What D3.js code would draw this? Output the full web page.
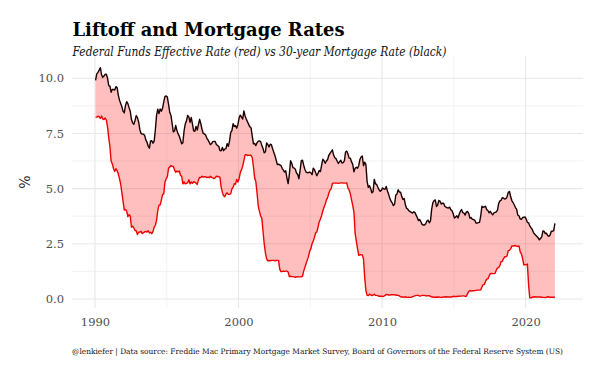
<!DOCTYPE html>
<html>
<head>
<meta charset="utf-8">
<script src="https://cdn.jsdelivr.net/npm/d3@7"></script>
<style>
  html, body { margin: 0; padding: 0; background: #fff; }
  svg { display: block; }
</style>
</head>
<body>
<svg id="chart" width="600" height="375"></svg>
<script>
// ---- DATA (monthly, starting Jan 1990) ----
const startYear = 1990;
const mortgageRate = [
  9.90,10.20,10.27,10.37,10.48,10.16,10.04,10.10,10.18,10.18,10.01,9.67,
  9.64,9.37,9.50,9.49,9.47,9.62,9.58,9.24,9.01,8.86,8.71,8.50,
  8.43,8.76,8.94,8.85,8.67,8.51,8.13,7.98,7.92,8.09,8.31,8.22,
  8.02,7.68,7.50,7.47,7.47,7.42,7.21,7.11,6.92,6.83,7.16,7.17,
  7.06,7.15,7.68,8.32,8.60,8.40,8.61,8.51,8.64,8.93,9.17,9.20,
  9.15,8.83,8.46,8.32,7.96,7.57,7.61,7.86,7.64,7.48,7.38,7.20,
  7.03,7.08,7.62,7.93,8.07,8.32,8.25,8.00,8.23,7.92,7.62,7.60,
  7.82,7.65,7.90,8.14,7.94,7.69,7.50,7.48,7.43,7.29,7.21,7.10,
  6.99,7.04,7.13,7.14,7.14,7.00,6.95,6.92,6.72,6.71,6.87,6.72,
  6.79,6.81,7.04,6.92,7.15,7.55,7.63,7.94,7.82,7.85,7.74,7.91,
  8.21,8.33,8.24,8.15,8.52,8.29,8.15,8.03,7.91,7.80,7.75,7.38,
  7.03,7.05,6.95,7.08,7.15,7.16,7.13,6.95,6.82,6.62,6.66,7.07,
  7.00,6.89,7.01,6.99,6.81,6.65,6.49,6.29,6.09,6.11,6.07,6.05,
  5.92,5.84,5.75,5.81,5.48,5.23,5.63,6.26,6.15,5.95,5.93,5.88,
  5.71,5.64,5.45,5.83,6.27,6.29,6.06,5.87,5.75,5.72,5.73,5.75,
  5.71,5.63,5.93,5.86,5.72,5.58,5.70,5.82,5.77,6.07,6.33,6.27,
  6.15,6.25,6.32,6.51,6.60,6.68,6.76,6.52,6.40,6.36,6.24,6.14,
  6.22,6.29,6.16,6.18,6.26,6.66,6.70,6.57,6.38,6.38,6.21,6.10,
  5.76,5.92,5.97,5.92,6.04,6.32,6.43,6.48,6.04,6.20,6.09,5.33,
  5.06,5.13,5.00,4.81,4.86,5.42,5.22,5.19,5.06,4.95,4.88,4.93,
  5.03,4.99,4.97,5.10,4.89,4.74,4.56,4.43,4.35,4.23,4.30,4.71,
  4.76,4.95,4.84,4.84,4.64,4.51,4.55,4.27,4.11,4.07,3.99,3.96,
  3.92,3.89,3.95,3.91,3.80,3.68,3.55,3.60,3.50,3.38,3.35,3.35,
  3.41,3.53,3.57,3.45,3.54,4.07,4.37,4.46,4.49,4.19,4.26,4.46,
  4.43,4.30,4.34,4.34,4.19,4.16,4.13,4.12,4.16,4.04,4.00,3.86,
  3.67,3.71,3.77,3.67,3.84,3.98,4.05,3.91,3.89,3.80,3.94,3.96,
  3.87,3.66,3.69,3.61,3.60,3.57,3.44,3.44,3.46,3.47,3.77,4.20,
  4.15,4.17,4.20,4.05,4.01,3.90,3.97,3.88,3.81,3.90,3.92,3.95,
  4.03,4.33,4.44,4.47,4.59,4.57,4.53,4.55,4.63,4.83,4.87,4.64,
  4.46,4.37,4.27,4.14,4.07,3.80,3.77,3.62,3.61,3.69,3.70,3.72,
  3.62,3.47,3.45,3.31,3.23,3.16,3.02,2.94,2.89,2.83,2.77,2.68,
  2.74,2.81,3.08,3.06,2.96,2.98,2.87,2.84,2.90,3.07,3.07,3.10,
  3.43
];
const fedFundsRate = [
  8.23,8.24,8.28,8.26,8.18,8.29,8.15,8.13,8.20,8.11,7.81,7.31,
  6.91,6.25,6.12,5.91,5.78,5.90,5.82,5.66,5.45,5.21,4.81,4.43,
  4.03,4.06,3.98,3.73,3.82,3.76,3.25,3.30,3.22,3.10,3.09,2.92,
  3.02,3.03,3.07,2.96,3.00,3.04,3.06,3.03,3.09,2.99,3.02,2.96,
  3.05,3.25,3.34,3.56,4.01,4.25,4.26,4.47,4.73,4.76,5.29,5.45,
  5.53,5.92,5.98,6.05,6.01,6.00,5.85,5.74,5.80,5.76,5.80,5.60,
  5.56,5.22,5.31,5.22,5.24,5.27,5.40,5.22,5.30,5.24,5.31,5.29,
  5.25,5.19,5.39,5.51,5.50,5.56,5.52,5.54,5.54,5.50,5.52,5.50,
  5.56,5.51,5.49,5.45,5.49,5.56,5.54,5.55,5.51,5.07,4.83,4.68,
  4.63,4.76,4.81,4.74,4.74,4.76,4.99,5.07,5.22,5.20,5.42,5.30,
  5.45,5.73,5.85,6.02,6.27,6.53,6.54,6.50,6.52,6.51,6.51,6.40,
  5.98,5.49,5.31,4.80,4.21,3.97,3.77,3.65,3.07,2.49,2.09,1.82,
  1.73,1.74,1.73,1.75,1.75,1.75,1.73,1.74,1.75,1.75,1.34,1.24,
  1.24,1.26,1.25,1.26,1.26,1.22,1.01,1.03,1.01,1.01,1.00,0.98,
  1.00,1.01,1.00,1.00,1.00,1.03,1.26,1.43,1.61,1.76,1.93,2.16,
  2.28,2.50,2.63,2.79,3.00,3.04,3.26,3.50,3.62,3.78,4.00,4.16,
  4.29,4.49,4.59,4.79,4.94,4.99,5.24,5.25,5.25,5.25,5.25,5.24,
  5.25,5.26,5.26,5.25,5.25,5.25,5.26,5.02,4.94,4.76,4.49,4.24,
  3.94,2.98,2.61,2.28,1.98,2.00,2.01,2.00,1.81,0.97,0.39,0.16,
  0.15,0.22,0.18,0.15,0.18,0.21,0.16,0.16,0.15,0.12,0.12,0.12,
  0.11,0.13,0.16,0.20,0.20,0.18,0.18,0.19,0.19,0.19,0.19,0.18,
  0.17,0.16,0.14,0.10,0.09,0.09,0.07,0.10,0.08,0.07,0.08,0.07,
  0.08,0.10,0.13,0.14,0.16,0.16,0.16,0.13,0.14,0.16,0.16,0.16,
  0.14,0.15,0.14,0.15,0.11,0.09,0.09,0.08,0.08,0.09,0.08,0.09,
  0.07,0.07,0.08,0.09,0.09,0.10,0.09,0.09,0.09,0.09,0.09,0.12,
  0.11,0.11,0.11,0.12,0.12,0.13,0.13,0.14,0.14,0.12,0.12,0.24,
  0.34,0.38,0.36,0.37,0.37,0.38,0.39,0.40,0.40,0.40,0.41,0.54,
  0.65,0.66,0.79,0.90,0.91,1.04,1.15,1.16,1.15,1.15,1.16,1.30,
  1.41,1.42,1.51,1.69,1.70,1.82,1.91,1.91,1.95,2.19,2.20,2.27,
  2.40,2.40,2.41,2.42,2.39,2.38,2.40,2.13,2.04,1.83,1.55,1.55,
  1.55,1.58,0.65,0.05,0.05,0.08,0.09,0.10,0.09,0.09,0.09,0.09,
  0.09,0.08,0.07,0.07,0.06,0.08,0.10,0.09,0.08,0.08,0.08,0.08,
  0.08
];
const xTicks = [1990, 2000, 2010, 2020];
const xMinorTicks = [1995, 2005, 2015];
const yTicks = [0, 2.5, 5, 7.5, 10];
const yMinorTicks = [1.25, 3.75, 6.25, 8.75];

const titleText = "Liftoff and Mortgage Rates";
const subtitleText = "Federal Funds Effective Rate (red) vs 30-year Mortgage Rate (black)";
const captionText = "@lenkiefer | Data source: Freddie Mac Primary Mortgage Market Survey, Board of Governors of the Federal Reserve System (US)";
const yTitle = "%";

// ---- BUILD ----
const data = mortgageRate.map((m, i) => ({
  t: startYear + (i + 0.5) / 12,
  mort: m,
  ff: fedFundsRate[i]
}));

const svg = d3.select("#chart");
const panel = { left: 72, right: 583, top: 56, bottom: 308 };

const x = d3.scaleLinear().domain([1988.40, 2024.0]).range([panel.left, panel.right]);
const y = d3.scaleLinear().domain([-0.41, 11.01]).range([panel.bottom, panel.top]);

const serif = "'DejaVu Serif', serif";

// grid
const grid = svg.append("g");
grid.selectAll("line.ymin").data(yMinorTicks).join("line")
  .attr("x1", panel.left).attr("x2", panel.right)
  .attr("y1", d => y(d)).attr("y2", d => y(d))
  .attr("stroke", "#ebebeb").attr("stroke-width", 0.6);
grid.selectAll("line.xmin").data(xMinorTicks).join("line")
  .attr("y1", panel.top).attr("y2", panel.bottom)
  .attr("x1", d => x(d)).attr("x2", d => x(d))
  .attr("stroke", "#ebebeb").attr("stroke-width", 0.6);
grid.selectAll("line.ymaj").data(yTicks).join("line")
  .attr("x1", panel.left).attr("x2", panel.right)
  .attr("y1", d => y(d)).attr("y2", d => y(d))
  .attr("stroke", "#e8e8e8").attr("stroke-width", 1.1);
grid.selectAll("line.xmaj").data(xTicks).join("line")
  .attr("y1", panel.top).attr("y2", panel.bottom)
  .attr("x1", d => x(d)).attr("x2", d => x(d))
  .attr("stroke", "#e8e8e8").attr("stroke-width", 1.1);

// ribbon
const area = d3.area()
  .x(d => x(d.t))
  .y0(d => y(d.ff))
  .y1(d => y(d.mort));
svg.append("path").datum(data)
  .attr("d", area)
  .attr("fill", "#ff0000").attr("fill-opacity", 0.25);

// lines
const lineFF = d3.line().x(d => x(d.t)).y(d => y(d.ff));
const lineM = d3.line().x(d => x(d.t)).y(d => y(d.mort));
svg.append("path").datum(data).attr("d", lineFF)
  .attr("fill", "none").attr("stroke", "#ee0000").attr("stroke-width", 1.4)
  .attr("stroke-linejoin", "round");
svg.append("path").datum(data).attr("d", lineM)
  .attr("fill", "none").attr("stroke", "#1a0000").attr("stroke-width", 1.4)
  .attr("stroke-linejoin", "round");

// axes
const yAxis = svg.append("g").attr("transform", `translate(${panel.left},0)`)
  .call(d3.axisLeft(y).tickValues(yTicks).tickSize(0).tickPadding(8)
    .tickFormat(d3.format(".1f")));
const xAxis = svg.append("g").attr("transform", `translate(0,${panel.bottom})`)
  .call(d3.axisBottom(x).tickValues(xTicks).tickSize(0).tickPadding(10)
    .tickFormat(d3.format("d")));
[yAxis, xAxis].forEach(g => {
  g.select(".domain").remove();
  g.selectAll("text").attr("font-family", serif).attr("font-size", 11.5)
    .attr("fill", "#4d4d4d");
});

// y title
svg.append("text")
  .attr("transform", "translate(30,182) rotate(-90)")
  .attr("text-anchor", "middle")
  .attr("font-family", serif).attr("font-size", 14).attr("fill", "#1a1a1a")
  .text(yTitle);

// title, subtitle, caption
svg.append("text").attr("x", 72.5).attr("y", 36)
  .attr("font-family", serif).attr("font-weight", "bold").attr("font-size", 19)
  .attr("textLength", 272).attr("lengthAdjust", "spacingAndGlyphs")
  .attr("fill", "#000").text(titleText);
svg.append("text").attr("x", 72.5).attr("y", 55.5)
  .attr("font-family", serif).attr("font-style", "italic").attr("font-size", 12.5)
  .attr("textLength", 374).attr("lengthAdjust", "spacingAndGlyphs")
  .attr("fill", "#111").text(subtitleText);
svg.append("text").attr("x", 72).attr("y", 354)
  .attr("font-family", serif).attr("font-size", 7.6)
  .attr("textLength", 491).attr("lengthAdjust", "spacingAndGlyphs")
  .attr("fill", "#111").text(captionText);
</script>
</body>
</html>
